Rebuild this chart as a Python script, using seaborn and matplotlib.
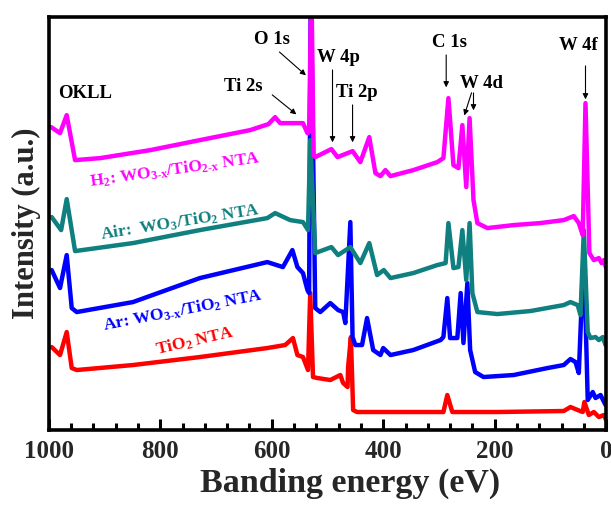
import numpy as np
import pandas as pd
import matplotlib
matplotlib.use("Agg")
import matplotlib.pyplot as plt
from matplotlib.ticker import MultipleLocator
import seaborn as sns

# ---- data (binding energy in eV, intensity in a.u.) ----
h2_be = [996, 980, 968, 953, 908, 818, 729, 639, 606, 594, 585, 544, 536, 533, 529, 525,
         522, 493, 482, 455, 441, 425, 414, 405, 396, 387, 346, 303, 292, 283, 274, 265,
         258, 251, 245, 238, 231, 213, 166, 118, 76, 58, 49, 42, 37, 30, 22, 13, 8, 4, 0]
h2_int = [303, 297, 315, 270, 272, 280, 290, 300, 306, 313, 307, 307, 297, 298, 450, 275,
          273, 281, 273, 279, 268, 293, 257, 254, 260, 254, 260, 268, 272, 332, 265, 262,
          305, 243, 312, 230, 207, 202, 205, 207, 210, 214, 207, 195, 327, 177, 170, 172, 167, 170, 162]

air_be = [995, 978, 968, 953, 849, 729, 608, 594, 567, 544, 535, 531, 522, 493, 481, 459,
          441, 425, 411, 399, 387, 346, 303, 288, 283, 274, 265, 258, 251, 245, 240, 231,
          195, 136, 76, 64, 51, 46, 40, 33, 28, 19, 13, 6, 1]
air_int = [213, 200, 231, 179, 187, 200, 212, 217, 210, 208, 200, 290, 177, 183, 175, 183,
           167, 187, 155, 160, 152, 157, 165, 167, 207, 162, 163, 200, 150, 207, 137, 118,
           116, 119, 125, 128, 125, 115, 200, 98, 92, 93, 90, 93, 85]

ar_be = [995, 980, 968, 959, 950, 849, 729, 608, 580, 563, 554, 544, 536, 533, 530, 522,
         513, 495, 481, 472, 468, 459, 455, 450, 438, 429, 418, 405, 400, 387, 346, 297,
         292, 285, 280, 267, 261, 256, 249, 244, 235, 220, 166, 105, 76, 64, 55, 49, 40,
         33, 24, 19, 10, 1]
ar_int = [160, 142, 175, 122, 118, 128, 152, 168, 163, 180, 163, 157, 140, 137, 450, 122,
          118, 127, 120, 118, 107, 208, 93, 85, 85, 112, 80, 75, 82, 75, 80, 90,
          93, 132, 92, 92, 137, 87, 147, 80, 58, 53, 55, 62, 65, 71, 68, 57, 180,
          30, 38, 32, 35, 25]

tio2_be = [995, 980, 968, 959, 950, 849, 729, 608, 576, 562, 554, 544, 535, 531, 526, 518,
           495, 477, 472, 464, 463, 458, 454, 447, 346, 292, 285, 276, 195, 76, 64, 51, 42,
           39, 31, 22, 13, 4, 0]
tio2_int = [83, 75, 98, 62, 60, 65, 73, 82, 85, 92, 75, 73, 60, 137, 53, 52,
            50, 55, 47, 43, 63, 93, 20, 18, 18, 18, 35, 18, 18, 19, 23, 20, 18,
            28, 15, 18, 13, 15, 10]

series_names = ["TiO2", "Ar", "Air", "H2"]
series_colors = ["#ff0000", "#0000ff", "#0f7f7f", "#ff00ff"]
xtick_values = [1000, 800, 600, 400, 200, 0]

frames = []
for name, be, inten in zip(series_names,
                           [tio2_be, ar_be, air_be, h2_be],
                           [tio2_int, ar_int, air_int, h2_int]):
    frames.append(pd.DataFrame({"be": be, "intensity": inten, "sample": name}))
df = pd.concat(frames, ignore_index=True)

# ---- style ----
sns.set_style("ticks")
plt.rcParams["font.family"] = ["Liberation Serif", "DejaVu Serif"]
plt.rcParams["font.weight"] = "bold"
plt.rcParams["mathtext.fontset"] = "custom"
plt.rcParams["mathtext.rm"] = "Liberation Serif:bold"
plt.rcParams["mathtext.it"] = "Liberation Serif:bold"
plt.rcParams["mathtext.bf"] = "Liberation Serif:bold"
plt.rcParams["axes.edgecolor"] = "black"
plt.rcParams["axes.linewidth"] = 2.4

fig = plt.figure(figsize=(6.11, 5.05), dpi=100)
ax = fig.add_axes([0.080, 0.1485, 0.912, 0.8175])

for name, col in zip(series_names, series_colors):
    sub = df[df["sample"] == name]
    sns.lineplot(data=sub, x="be", y="intensity", color=col, linewidth=3.2,
                 estimator=None, sort=True, ax=ax, legend=False)

ax.set_xlim(1000, 0)
ax.set_ylim(0, 413)
ax.set_xticks(xtick_values)
ax.xaxis.set_minor_locator(MultipleLocator(40))
ax.set_yticks([])
ax.tick_params(axis="x", which="major", direction="in", length=8, width=2.2,
               labelsize=18, pad=7, color="black")
ax.tick_params(axis="x", which="minor", direction="in", length=5, width=2.2, color="black")
for lab in ax.get_xticklabels():
    lab.set_fontweight("bold")
for sp in ax.spines.values():
    sp.set_visible(True)
    sp.set_linewidth(2.6)
    sp.set_edgecolor("black")
    sp.set_zorder(10)

ax.set_xlabel("Banding energy (eV)", fontsize=24.5, fontweight="bold")
ax.xaxis.set_label_coords(0.54, -0.092)
ax.set_ylabel("Intensity (a.u.)", fontsize=22, fontweight="bold", labelpad=6)

# ---- peak annotations ----
ann_kw = dict(fontsize=13.5, fontweight="bold", color="black", ha="center", va="center")
arrow_kw = dict(arrowstyle="-|>", color="black", lw=0.8, mutation_scale=8)
ax.text(935, 337, "OKLL", **ann_kw)
ax.annotate("", xy=(552, 314), xytext=(603, 337), arrowprops=arrow_kw)
ax.text(651, 344, "Ti 2s", **ann_kw)
ax.annotate("", xy=(535, 353), xytext=(590, 380), arrowprops=arrow_kw)
ax.text(599, 391, "O 1s", **ann_kw)
ax.annotate("", xy=(491, 285), xytext=(491, 363), arrowprops=arrow_kw)
ax.text(481, 373, "W 4p", **ann_kw)
ax.annotate("", xy=(455, 285), xytext=(455, 328), arrowprops=arrow_kw)
ax.text(448, 338, "Ti 2p", **ann_kw)
ax.annotate("", xy=(287, 340), xytext=(287, 378), arrowprops=arrow_kw)
ax.text(281, 388, "C 1s", **ann_kw)
ax.annotate("", xy=(256, 312), xytext=(240, 340), arrowprops=arrow_kw)
ax.annotate("", xy=(238, 317), xytext=(238, 340), arrowprops=arrow_kw)
ax.text(224, 347, "W 4d", **ann_kw)
ax.annotate("", xy=(37, 328), xytext=(37, 367), arrowprops=arrow_kw)
ax.text(49, 385, "W 4f", **ann_kw)

# ---- sample labels ----
lab_kw = dict(fontsize=12.5, fontweight="bold", ha="center", va="center")
ax.text(773, 260, r"H$_2$: WO$_{\text{3-x}}$/TiO$_{\text{2-x}}$ NTA", color="#ff00ff",
        rotation=8, **lab_kw)
ax.text(764, 208, r"Air:  WO$_3$/TiO$_2$ NTA", color="#0f7f7f", rotation=9, **lab_kw)
ax.text(759, 120, r"Ar: WO$_{\text{3-x}}$/TiO$_2$ NTA", color="#0000ff", rotation=11, **lab_kw)
ax.text(739, 89, r"TiO$_2$ NTA", color="#ff0000", rotation=13, **lab_kw)

fig.savefig("out.png", dpi=100)
